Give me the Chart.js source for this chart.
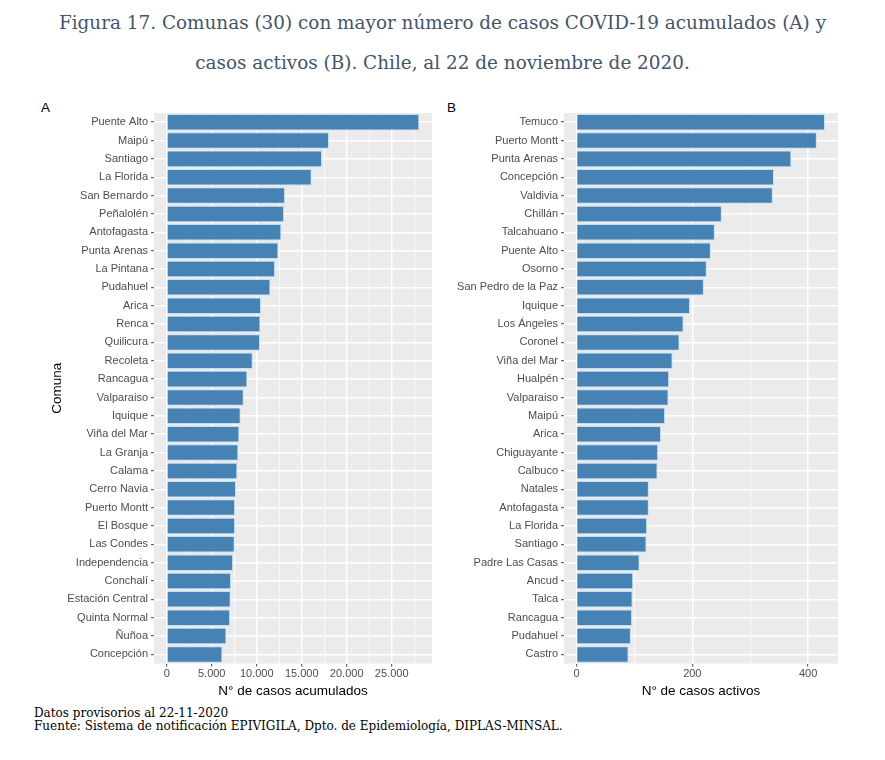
<!DOCTYPE html>
<html lang="es">
<head>
<meta charset="utf-8">
<title>Figura 17</title>
<script src="https://cdn.jsdelivr.net/npm/chart.js@4.4.0/dist/chart.umd.min.js"></script>
<style>
    body { margin: 0; background: #fff; }
    #page { position: relative; width: 885px; height: 760px; overflow: hidden; }
    .titulo { position: absolute; left: 0; width: 885px; text-align: center; font-family: "DejaVu Serif", serif; font-size: 18.4px; color: #44546a; }
    .panel { position: absolute; font-family: "Liberation Sans", Arial, sans-serif; font-size: 13.5px; color: #000; }
    .nota { position: absolute; left: 34px; font-family: "DejaVu Serif", serif; font-size: 12px; color: #000; white-space: nowrap; }
    canvas { position: absolute; }
</style>
</head>
<body>
<div id="page">
    <div class="titulo" style="top:12px">Figura 17. Comunas (30) con mayor número de casos COVID-19 acumulados (A) y</div>
    <div class="titulo" style="top:52px">casos activos (B). Chile, al 22 de noviembre de 2020.</div>
    <div class="panel" style="left:41px; top:100px">A</div>
    <div class="panel" style="left:447px; top:100px">B</div>
    <canvas id="chartA" width="410" height="610" style="left:30px; top:90px"></canvas>
    <canvas id="chartB" width="410" height="610" style="left:440px; top:90px"></canvas>
    <div class="nota" style="top:706px">Datos provisorios al 22-11-2020</div>
    <div class="nota" style="top:719px">Fuente: Sistema de notificación EPIVIGILA, Dpto. de Epidemiología, DIPLAS-MINSAL.</div>
</div>
<script>
// A: casos acumulados
const comunasA = ['Puente Alto', 'Maipú', 'Santiago', 'La Florida', 'San Bernardo', 'Peñalolén', 'Antofagasta',
    'Punta Arenas', 'La Pintana', 'Pudahuel', 'Arica', 'Renca', 'Quilicura', 'Recoleta', 'Rancagua', 'Valparaiso',
    'Iquique', 'Viña del Mar', 'La Granja', 'Calama', 'Cerro Navia', 'Puerto Montt', 'El Bosque', 'Las Condes',
    'Independencia', 'Conchalí', 'Estación Central', 'Quinta Normal', 'Ñuñoa', 'Concepción'];
const casosA = [28070, 18030, 17260, 16110, 13150, 13040, 12740, 12410, 12040, 11520, 10480, 10410, 10370, 9560,
    8960, 8560, 8220, 8070, 7960, 7850, 7700, 7600, 7590, 7560, 7370, 7150, 7110, 7040, 6630, 6190];
const ticksA = [0, 5000, 10000, 15000, 20000, 25000];
const minorA = [2500, 7500, 12500, 17500, 22500, 27500];

// B: casos activos
const comunasB = ['Temuco', 'Puerto Montt', 'Punta Arenas', 'Concepción', 'Valdivia', 'Chillán', 'Talcahuano',
    'Puente Alto', 'Osorno', 'San Pedro de la Paz', 'Iquique', 'Los Ángeles', 'Coronel', 'Viña del Mar', 'Hualpén',
    'Valparaiso', 'Maipú', 'Arica', 'Chiguayante', 'Calbuco', 'Natales', 'Antofagasta', 'La Florida', 'Santiago',
    'Padre Las Casas', 'Ancud', 'Talca', 'Rancagua', 'Pudahuel', 'Castro'];
const casosB = [429, 415, 371, 341, 339, 251, 239, 232, 225, 220, 196, 185, 178, 166, 160, 159, 153, 146, 141, 140,
    125, 125, 122, 121, 109, 98, 97, 96, 94, 90];
const ticksB = [0, 200, 400];
const minorB = [100, 300];

document.addEventListener('DOMContentLoaded', () => {

    // fondo gris del panel (estilo ggplot)
    const panelBg = {
        id: 'panelBg',
        beforeDraw(chart) {
            const { ctx, chartArea: a } = chart;
            ctx.save();
            ctx.fillStyle = '#ebebeb';
            ctx.fillRect(a.left, a.top, a.right - a.left, a.bottom - a.top);
            ctx.restore();
        }
    };

    function miles(v) {
        return String(v).replace(/\B(?=(\d{3})+(?!\d))/g, '.');
    }

    function makeChart(id, labels, values, majors, minors, xMin, xMax, xTitle, yTitle, rightPad) {
        const ctx = document.getElementById(id).getContext('2d');
        const allTicks = majors.concat(minors).sort((a, b) => a - b);
        const isMajor = v => majors.includes(v);

        return new Chart(ctx, {
            type: 'bar',
            data: {
                labels: labels,
                datasets: [{
                    data: values,
                    backgroundColor: '#4682b4',
                    borderColor: '#c4def2',
                    borderWidth: 1,
                    barPercentage: 0.9,
                    categoryPercentage: 1
                }]
            },
            plugins: [panelBg],
            options: {
                indexAxis: 'y',
                responsive: false,
                animation: false,
                layout: { padding: { top: 23, right: rightPad, left: 0, bottom: 0 } },
                plugins: {
                    legend: { display: false },
                    tooltip: { enabled: false }
                },
                scales: {
                    x: {
                        min: xMin,
                        max: xMax,
                        afterBuildTicks: axis => { axis.ticks = allTicks.map(v => ({ value: v })); },
                        afterFit: axis => { axis.height = 36.4; },
                        border: { display: false },
                        grid: {
                            color: '#ffffff',
                            lineWidth: c => isMajor(c.tick.value) ? 1.4 : 0.7,
                            tickColor: c => isMajor(c.tick.value) ? '#444444' : 'rgba(0,0,0,0)',
                            tickLength: 3,
                            tickWidth: 1
                        },
                        ticks: {
                            autoSkip: false,
                            maxRotation: 0,
                            padding: 1,
                            color: '#4d4d4d',
                            font: { family: '"Liberation Sans", Arial, sans-serif', size: 11 },
                            callback: v => isMajor(v) ? miles(v) : ''
                        },
                        title: {
                            display: true,
                            text: xTitle,
                            color: '#000000',
                            padding: { top: 0, bottom: 1 },
                            font: { family: '"Liberation Sans", Arial, sans-serif', size: 13.5 }
                        }
                    },
                    y: {
                        afterFit: axis => { axis.width = 124; },
                        border: { display: false },
                        grid: {
                            offset: false,
                            color: '#ffffff',
                            lineWidth: 1.4,
                            tickColor: '#444444',
                            tickLength: 3,
                            tickWidth: 1
                        },
                        ticks: {
                            autoSkip: false,
                            padding: 3,
                            color: '#4d4d4d',
                            font: { family: '"Liberation Sans", Arial, sans-serif', size: 11 }
                        },
                        title: {
                            display: yTitle !== '',
                            text: yTitle,
                            color: '#000000',
                            padding: { top: 19, bottom: 0 },
                            font: { family: '"Liberation Sans", Arial, sans-serif', size: 13.5 }
                        }
                    }
                }
            }
        });
    }

    makeChart('chartA', comunasA, casosA, ticksA, minorA, -1415, 29480, 'N° de casos acumulados', 'Comuna', 8);
    makeChart('chartB', comunasB, casosB, ticksB, minorB, -21.5, 451.5, 'N° de casos activos', '', 12);
});
</script>
</body>
</html>
